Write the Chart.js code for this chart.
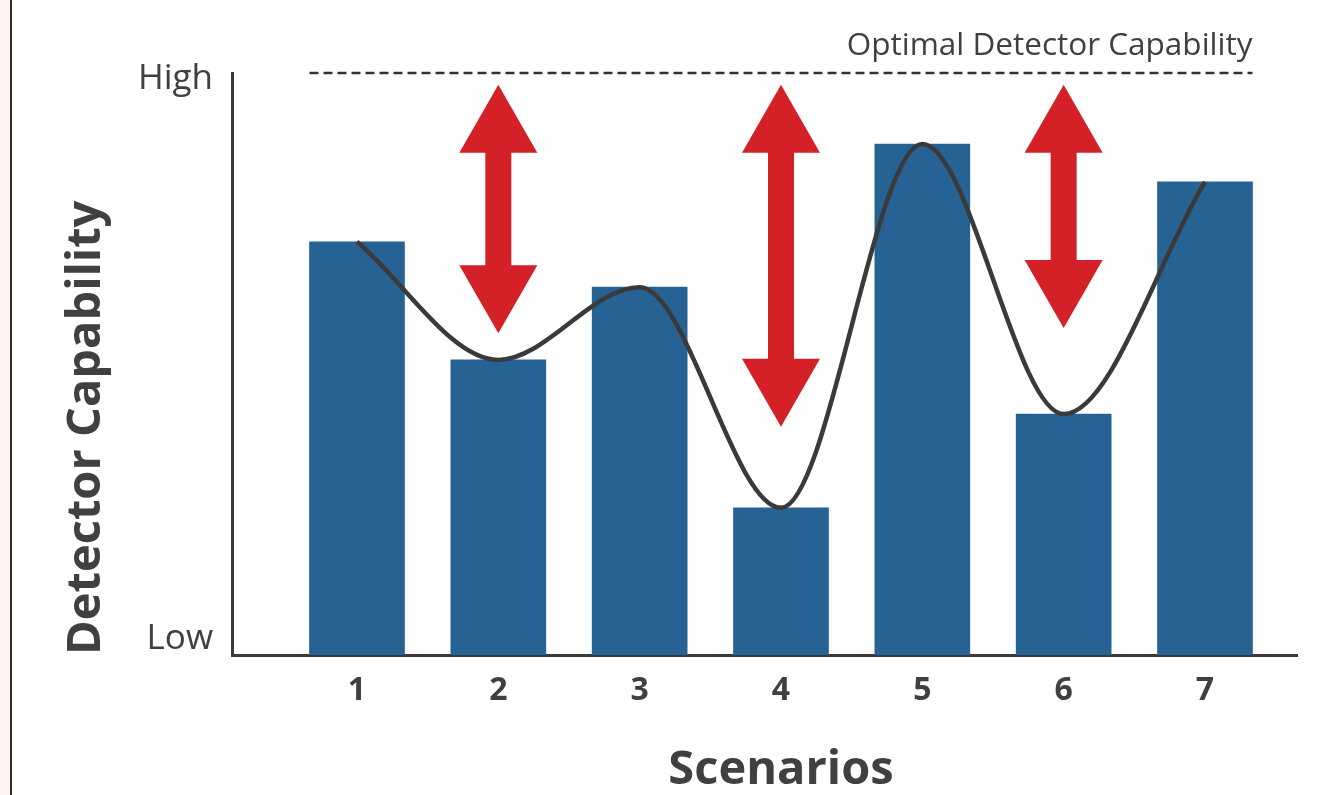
<!DOCTYPE html>
<html>
<head>
<meta charset="utf-8">
<script src="https://cdn.jsdelivr.net/npm/chart.js@4.4.1/dist/chart.umd.min.js"></script>
<style>
  html, body { margin: 0; padding: 0; }
  body {
    width: 1331px; height: 795px; overflow: hidden;
    background: linear-gradient(to right, #fcf2ef 0 10px, #2e2e2e 10px 12px, #ffffff 12px);
  }
  #wrap { position: absolute; left: 12px; top: 0; width: 1319px; height: 795px; }
</style>
</head>
<body>
<div id="wrap"><canvas id="chart"></canvas></div>
<script>
  // data (0 = Low, 100 = High)
  const scenarios = [1, 2, 3, 4, 5, 6, 7];
  const capability = [71, 50.7, 63.2, 25.3, 87.8, 41.4, 81.3];
  const yTickValues = [2.7, 99];
  const yTickLabels = ['Low', 'High'];
  const optimalLevel = 100;
  const arrowScenarios = [2, 4, 6];
  const arrowTop = [98, 98, 98];
  const arrowBottom = [55.3, 39.2, 56.2];

  const textColor = '#404040';
  const barWidth = 95;

  const gapPlugin = {
    id: 'gapArrows',
    afterDatasetsDraw(chart) {
      const { ctx, scales: { x, y } } = chart;
      ctx.save();

      // optimal capability dashed line + label
      const yOpt = y.getPixelForValue(optimalLevel);
      const x0 = x.getPixelForValue(scenarios[0]) - barWidth / 2;
      const x1 = x.getPixelForValue(scenarios[scenarios.length - 1]) + barWidth / 2;
      ctx.strokeStyle = '#333333';
      ctx.lineWidth = 2.5;
      ctx.setLineDash([9, 5]);
      ctx.beginPath();
      ctx.moveTo(x0, yOpt);
      ctx.lineTo(x1, yOpt);
      ctx.stroke();
      ctx.setLineDash([]);

      ctx.fillStyle = textColor;
      ctx.font = '31.5px "Open Sans"';
      ctx.textAlign = 'right';
      ctx.textBaseline = 'alphabetic';
      ctx.fillText('Optimal Detector Capability', x1, yOpt - 18);

      // x axis title, centred under the bars
      ctx.font = 'bold 47px "Open Sans"';
      ctx.textAlign = 'center';
      ctx.textBaseline = 'middle';
      ctx.fillText('Scenarios', (x0 + x1) / 2, chart.height - 24);

      // red double arrows
      const headW = 78, headL = 68, shaftW = 26;
      ctx.fillStyle = '#d42027';
      arrowScenarios.forEach((s, i) => {
        const cx = x.getPixelForValue(s);
        const top = y.getPixelForValue(arrowTop[i]);
        const bot = y.getPixelForValue(arrowBottom[i]);
        ctx.beginPath();
        ctx.moveTo(cx, top);
        ctx.lineTo(cx + headW / 2, top + headL);
        ctx.lineTo(cx + shaftW / 2, top + headL);
        ctx.lineTo(cx + shaftW / 2, bot - headL);
        ctx.lineTo(cx + headW / 2, bot - headL);
        ctx.lineTo(cx, bot);
        ctx.lineTo(cx - headW / 2, bot - headL);
        ctx.lineTo(cx - shaftW / 2, bot - headL);
        ctx.lineTo(cx - shaftW / 2, top + headL);
        ctx.lineTo(cx - headW / 2, top + headL);
        ctx.closePath();
        ctx.fill();
      });
      ctx.restore();
    }
  };

  const points = scenarios.map((s, i) => ({ x: s, y: capability[i] }));

  new Chart(document.getElementById('chart'), {
    type: 'bar',
    data: {
      datasets: [
        {
          type: 'line',
          data: points,
          borderColor: '#3a3a3a',
          borderWidth: 4.5,
          pointRadius: 0,
          cubicInterpolationMode: 'monotone',
          fill: false,
          order: 0
        },
        {
          data: points,
          backgroundColor: '#266394',
          barThickness: barWidth,
          order: 1
        }
      ]
    },
    options: {
      responsive: true,
      maintainAspectRatio: false,
      animation: false,
      layout: { padding: { top: 73, right: 34, left: 0, bottom: 0 } },
      plugins: { legend: { display: false }, tooltip: { enabled: false } },
      scales: {
        x: {
          type: 'linear',
          offset: false,
          min: 0.1156,
          max: 7.651,
          afterFit(scale) { scale.height = 140; },
          afterBuildTicks(scale) { scale.ticks = scenarios.map(v => ({ value: v })); },
          grid: { display: false, drawTicks: false },
          border: { display: true, color: '#3a3a3a', width: 3 },
          ticks: {
            padding: 17,
            color: textColor,
            font: { family: 'Open Sans', size: 32, weight: 'bold' },
            callback: v => String(v)
          },
          title: { display: false }
        },
        y: {
          min: 0,
          max: 100,
          afterFit(scale) { scale.width = 220; },
          afterBuildTicks(scale) { scale.ticks = yTickValues.map(v => ({ value: v })); },
          grid: { display: false, drawTicks: false },
          border: { display: true, color: '#3a3a3a', width: 3 },
          ticks: {
            padding: 19,
            color: textColor,
            font: { family: 'Open Sans', size: 35 },
            callback: (v, i) => yTickLabels[i]
          },
          title: {
            display: true,
            text: 'Detector Capability',
            align: 'start',
            color: textColor,
            padding: { top: 46, bottom: 0 },
            font: { family: 'Open Sans', size: 47, weight: 'bold' }
          }
        }
      }
    },
    plugins: [gapPlugin]
  });
</script>
</body>
</html>
